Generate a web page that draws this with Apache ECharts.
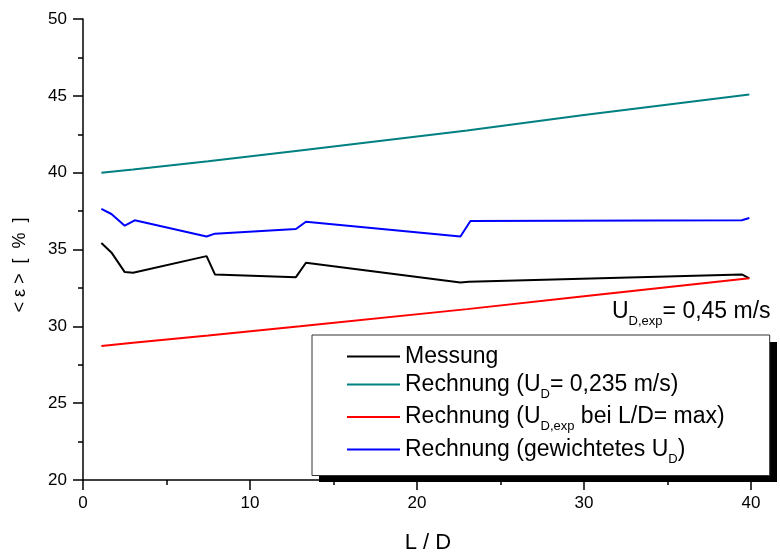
<!DOCTYPE html>
<html><head><meta charset="utf-8">
<script src="https://cdn.jsdelivr.net/npm/echarts@6/dist/echarts.min.js"></script>
<style>html,body{margin:0;padding:0;background:#fff}#c{width:780px;height:555px}</style>
</head><body><div id="c"></div>
<script>
const FONT = '"Liberation Sans", Arial, sans-serif';
// tick values
const xTicks = [0, 10, 20, 30, 40];
const yTicks = [20, 25, 30, 35, 40, 45, 50];
// Messung
const messungLD = [1.1, 1.7, 2.5, 3.0, 7.4, 7.9, 12.75, 13.35, 22.6, 23.1, 39.45, 39.9];
const messungEps = [35.42, 34.81, 33.53, 33.49, 34.57, 33.38, 33.2, 34.14, 32.85, 32.9, 33.38, 33.12];
// Rechnung (U_D = 0,235 m/s)
const tealLD = [1.1, 3.0, 7.5, 13.0, 23.0, 30.0, 39.9];
const tealEps = [40.0, 40.2, 40.75, 41.45, 42.75, 43.75, 45.08];
// Rechnung (U_D,exp bei L/D = max)
const redLD = [1.1, 3.0, 7.5, 13.0, 23.0, 30.0, 39.9];
const redEps = [28.72, 28.93, 29.4, 30.0, 31.12, 31.95, 33.13];
// Rechnung (gewichtetes U_D)
const blueLD = [1.1, 1.7, 2.5, 3.1, 7.4, 7.9, 12.75, 13.35, 22.6, 23.2, 39.45, 39.9];
const blueEps = [37.65, 37.31, 36.55, 36.9, 35.85, 36.03, 36.33, 36.81, 35.85, 36.85, 36.9, 37.05];

const names = ['Messung', 'Rechnung (U_D= 0,235 m/s)', 'Rechnung (U_D,exp bei L/D= max)', 'Rechnung (gewichtetes U_D)'];
const legendRich = {};
legendRich[names[0]] = '{a|Messung}';
legendRich[names[1]] = '{a|Rechnung (U}{s|D}{a|= 0,235 m/s)}';
legendRich[names[2]] = '{a|Rechnung (U}{s|D,exp}{a| bei L/D= max)}';
legendRich[names[3]] = '{a|Rechnung (gewichtetes U}{s|D}{a|)}';

function pairs(xs, ys) { return xs.map((x, i) => [x, ys[i]]); }

const chart = echarts.init(document.getElementById('c'), null, {renderer: 'canvas'});
const axisCommon = {
  axisLine: {show: true, lineStyle: {color: '#000', width: 1.5}},
  axisTick: {show: true, length: 10, lineStyle: {color: '#000', width: 1.5}},
  minorTick: {show: true, splitNumber: 2, length: 5, lineStyle: {color: '#000', width: 1.5}},
  splitLine: {show: false},
};
const richStyles = {
  a: {fontSize: 23, fontFamily: FONT, color: '#000', lineHeight: 26},
  s: {fontSize: 13, fontFamily: FONT, color: '#000', lineHeight: 32, verticalAlign: 'bottom'}
};
const option = {
  animation: false,
  backgroundColor: '#fff',
  grid: {left: 83, right: 29, top: 19, bottom: 75, containLabel: false, outerBoundsMode: 'none'},
  xAxis: Object.assign({
    type: 'value', min: xTicks[0], max: xTicks[xTicks.length - 1], interval: 10,
    axisLabel: {margin: 15, fontSize: 17, color: '#000', fontFamily: FONT},
    name: 'L / D', nameLocation: 'middle', nameGap: 52,
    nameTextStyle: {fontSize: 22, color: '#000', fontFamily: FONT, padding: [0, 0, 0, 22]}
  }, axisCommon),
  yAxis: Object.assign({
    type: 'value', min: yTicks[0], max: yTicks[yTicks.length - 1], interval: 5,
    axisLabel: {margin: 16, fontSize: 17, color: '#000', fontFamily: FONT}
  }, axisCommon),
  legend: {
    orient: 'vertical', left: 312, top: 335, padding: [10, 45, 10, 35], z: 6,
    itemGap: 5, itemWidth: 53, itemHeight: 2, icon: 'rect',
    backgroundColor: '#fff', borderColor: '#333', borderWidth: 1,
    textStyle: {fontSize: 23, fontFamily: FONT, color: '#000', rich: richStyles},
    formatter: n => legendRich[n],
    data: names
  },
  graphic: [
    {type: 'rect', z: 5, shape: {x: 319, y: 342, width: 458, height: 140}, style: {fill: '#000'}},
    {type: 'text', x: 20, y: 265, rotation: Math.PI / 2,
     style: {text: '< ε >  [  %  ]', fontSize: 18, fontFamily: FONT, fill: '#000', align: 'center', verticalAlign: 'middle'}},
    {type: 'text', x: 612, y: 312,
     style: {text: '{a|U}{s|D,exp}{a|= 0,45 m/s}', rich: richStyles, align: 'left', verticalAlign: 'middle'}}
  ],
  series: [
    {name: names[0], type: 'line', data: pairs(messungLD, messungEps), symbol: 'none', lineStyle: {color: '#000', width: 2}, itemStyle: {color: '#000'}, z: 3},
    {name: names[1], type: 'line', data: pairs(tealLD, tealEps), symbol: 'none', lineStyle: {color: '#008080', width: 2}, itemStyle: {color: '#008080'}, z: 3},
    {name: names[2], type: 'line', data: pairs(redLD, redEps), symbol: 'none', lineStyle: {color: '#ff0000', width: 2}, itemStyle: {color: '#ff0000'}, z: 3},
    {name: names[3], type: 'line', data: pairs(blueLD, blueEps), symbol: 'none', lineStyle: {color: '#0000ff', width: 2}, itemStyle: {color: '#0000ff'}, z: 3}
  ]
};
chart.setOption(option);
</script></body></html>
